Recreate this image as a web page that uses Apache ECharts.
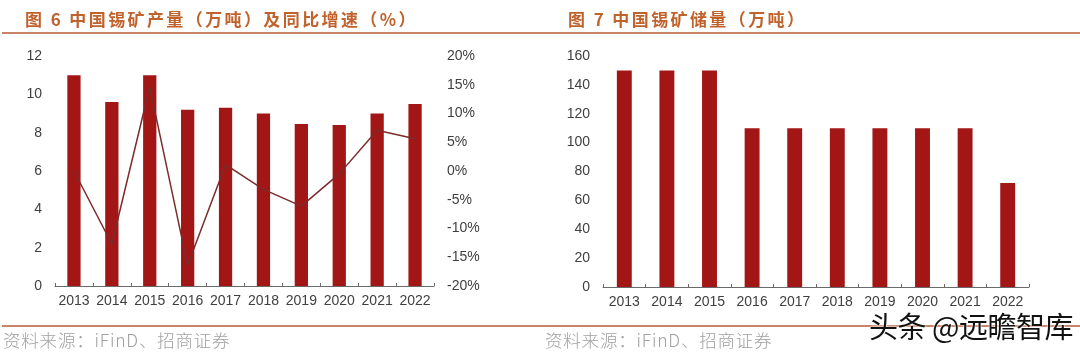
<!DOCTYPE html>
<html>
<head>
<meta charset="utf-8">
<script src="https://cdn.jsdelivr.net/npm/echarts@6/dist/echarts.min.js"></script>
<style>
  html, body { margin: 0; padding: 0; background: #fff; }
  #wrap { position: relative; width: 1080px; height: 356px; overflow: hidden; }
  #chart { position: absolute; left: 0; top: 0; width: 1080px; height: 356px; }
  .title { position: absolute; top: 7px; font-family: "Noto Sans CJK SC", sans-serif; font-weight: bold;
           font-size: 17px; color: #c0622c; letter-spacing: 2.4px; white-space: nowrap; line-height: 24px; }
  .foot { position: absolute; top: 328px; font-family: "Noto Sans CJK SC", sans-serif; font-weight: 300;
          font-size: 17.5px; color: #a0a0a0; white-space: nowrap; line-height: 24px; letter-spacing: 0.8px; }
  .wm { position: absolute; left: 869px; top: 308px; font-family: "Noto Sans CJK SC", sans-serif; font-size: 29px;
        color: #111; white-space: nowrap; line-height: 34px; letter-spacing: -0.5px; text-shadow: 0 0 2px #fff, 0 0 2px #fff; }
</style>
</head>
<body>
<div id="wrap">
  <div id="chart"></div>
  <div class="title" style="left:25px;">图 6 中国锡矿产量（万吨）及同比增速（%）</div>
  <div class="title" style="left:568px;">图 7 中国锡矿储量（万吨）</div>
  <div class="foot" style="left:3px;">资料来源：iFinD、招商证券</div>
  <div class="foot" style="left:545px;">资料来源：iFinD、招商证券</div>
  <div class="wm">头条 @远瞻智库</div>
</div>
<script>
const years = ['2013','2014','2015','2016','2017','2018','2019','2020','2021','2022'];
const production = [11.0, 9.6, 11.0, 9.2, 9.3, 9.0, 8.45, 8.4, 9.0, 9.5];
const growth = [0.0, -12.7, 14.6, -16.4, 1.1, -3.2, -6.1, -0.5, 7.1, 5.6];
const reserves = [150, 150, 150, 110, 110, 110, 110, 110, 110, 72];
const leftTicks = [0, 2, 4, 6, 8, 10, 12];
const rightTicks = [-20, -15, -10, -5, 0, 5, 10, 15, 20];
const reserveTicks = [0, 20, 40, 60, 80, 100, 120, 140, 160];

const barColor = '#a31616';
const lineColor = '#7a2b2b';
const labelStyle = { color: '#404040', fontSize: 14, fontFamily: 'Liberation Sans, Arial, sans-serif' };
const axisLineStyle = { lineStyle: { color: '#6a6a6a', width: 1 } };

const chart = echarts.init(document.getElementById('chart'), null, { renderer: 'canvas' });
chart.setOption({
  animation: false,
  grid: [
    { left: 55, top: 56, width: 379, height: 230 },
    { left: 603, top: 56, width: 426, height: 231 }
  ],
  xAxis: [
    { type: 'category', gridIndex: 0, data: years, boundaryGap: true,
      axisLine: axisLineStyle, axisTick: { show: true, inside: true, length: 3, lineStyle: { color: '#6a6a6a' } },
      axisLabel: Object.assign({ margin: 8, interval: 0 }, labelStyle) },
    { type: 'category', gridIndex: 1, data: years, boundaryGap: true,
      axisLine: axisLineStyle, axisTick: { show: true, inside: true, length: 3, lineStyle: { color: '#6a6a6a' } },
      axisLabel: Object.assign({ margin: 8, interval: 0 }, labelStyle) }
  ],
  yAxis: [
    { type: 'value', gridIndex: 0, min: leftTicks[0], max: leftTicks[leftTicks.length - 1], interval: 2,
      axisLine: { show: false }, axisTick: { show: false }, splitLine: { show: false },
      axisLabel: Object.assign({ margin: 13 }, labelStyle) },
    { type: 'value', gridIndex: 0, position: 'right', min: rightTicks[0], max: rightTicks[rightTicks.length - 1], interval: 5,
      axisLine: { show: false }, axisTick: { show: false }, splitLine: { show: false },
      axisLabel: Object.assign({ margin: 13, formatter: v => v + '%' }, labelStyle) },
    { type: 'value', gridIndex: 1, min: reserveTicks[0], max: reserveTicks[reserveTicks.length - 1], interval: 20,
      axisLine: { show: false }, axisTick: { show: false }, splitLine: { show: false },
      axisLabel: Object.assign({ margin: 13 }, labelStyle) }
  ],
  series: [
    { type: 'bar', xAxisIndex: 0, yAxisIndex: 0, data: production, barWidth: '35%',
      itemStyle: { color: barColor } },
    { type: 'line', xAxisIndex: 0, yAxisIndex: 1, data: growth, symbol: 'none',
      lineStyle: { color: lineColor, width: 1.5 }, z: 3 },
    { type: 'bar', xAxisIndex: 1, yAxisIndex: 2, data: reserves, barWidth: '35%',
      itemStyle: { color: barColor } }
  ],
  graphic: [
    { type: 'rect', shape: { x: 2, y: 32, width: 1078, height: 2 }, style: { fill: '#c98468' } },
    { type: 'rect', shape: { x: 2, y: 325, width: 1078, height: 2 }, style: { fill: '#c98468' } }
  ]
});
</script>
</body>
</html>
